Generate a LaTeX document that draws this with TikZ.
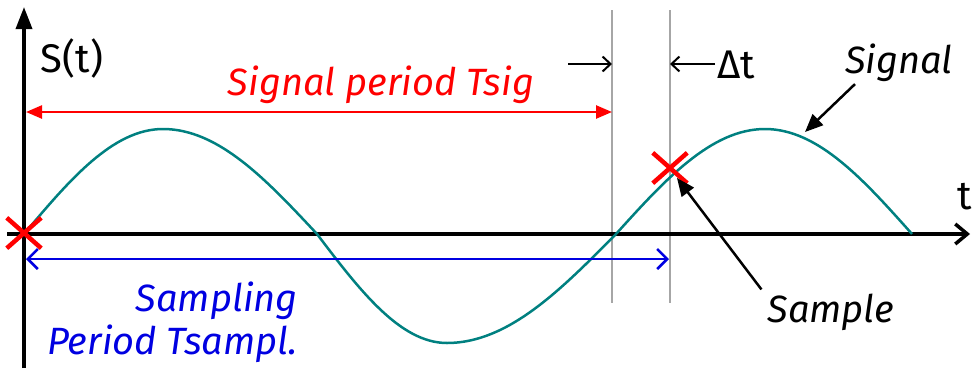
\documentclass[tikz,border=0pt]{standalone}
\usepackage{fontspec}
\setmainfont{Fira Sans}
\usetikzlibrary{arrows.meta,positioning,shapes.misc}
\definecolor{sigteal}{RGB}{0,128,128}
\definecolor{tsigred}{RGB}{255,0,0}
\definecolor{tsamblue}{RGB}{0,0,225}
\tikzset{
  axisline/.style={line width=3.5pt, black},
  periodarrow/.style={line width=2.5pt, draw=#1},
  guide/.style={line width=1.2pt, gray!70},
  samplemark/.style={cross out, draw=tsigred, line width=4.5pt,
                     minimum width=30pt, minimum height=26pt, inner sep=0pt},
  lbl/.style={font=\fontsize{38}{43}\selectfont\itshape, inner sep=0pt},
  ulbl/.style={font=\fontsize{40}{43}\selectfont, inner sep=0pt},
  pointer/.style={-{Triangle[length=18pt,width=15pt]}, line width=2.5pt},
}

\begin{document}
\begin{tikzpicture}[x=1pt,y=-1pt]
  \useasboundingbox (0,0) rectangle (980,368);
  % guides at end of signal period and at the sample
  \coordinate (g1top) at (612,10);  \coordinate (g1bot) at (612,303);
  \coordinate (g2top) at (670,10);  \coordinate (g2bot) at (670,303);
  \draw[guide] (g1top) -- (g1bot);
  \draw[guide] (g2top) -- (g2bot);
  % axes
  \coordinate (ybot) at (24,368);  \coordinate (ytop) at (24,7);
  \coordinate (xleft) at (7,234);  \coordinate (xright) at (970,234);
  \draw[axisline, -{Triangle[length=22pt,width=16pt]}] (ybot) -- (ytop);
  \draw[axisline, -{Straight Barb[length=12pt,width=20pt]}] (xleft) -- (xright);
  % signal
  \draw[line width=2.5pt, sigteal] (24,234) sin (163,129) cos (317,234) sin (447,343)
    cos (616,234) sin (765,129) cos (912,234);
  % samples
  \node[samplemark] (s0) at (24,233) {};
  \node[samplemark] (s1) at (670,168) {};
  % periods
  \coordinate (tsigl) at (26,112);  \coordinate (tsigr) at (612,112);
  \draw[periodarrow=tsigred, fill=tsigred,
        {Triangle[length=16pt,width=13pt]}-{Triangle[length=16pt,width=13pt]}] (tsigl) -- (tsigr);
  \coordinate (tsaml) at (26,259);  \coordinate (tsamr) at (669,259);
  \draw[periodarrow=tsamblue, {Straight Barb[length=10pt,width=20pt]}-{Straight Barb[length=10pt,width=20pt]}] (tsaml) -- (tsamr);
  % delta t
  \coordinate (dl) at (568,64);  \coordinate (dr) at (715,64);
  \draw[line width=2pt, -{Straight Barb[length=8pt,width=15pt]}] (dl) -- (g1top |- dl);
  \draw[line width=2pt, -{Straight Barb[length=8pt,width=15pt]}] (dr) -- (g2top |- dr);
  % labels
  \node[ulbl] (st) at (72,58) {S(t)};
  \node[lbl, text=tsigred] (tsig) at (381,85) {Signal period Tsig};
  \node[ulbl, anchor=west] (dt) at (717,65) {Δt};
  \node[ulbl] (tl) at (965,197) {t};
  \node[lbl] (sig) at (899,63) {Signal};
  \node[lbl] (samp) at (831,312) {Sample};
  \node[lbl, text=tsamblue, align=right, anchor=east] (tsam) at (298,322) {Sampling\\Period Tsampl.};
  % pointers
  \coordinate (sigtip) at (805,132);  \coordinate (samptip) at (677,178);
  \draw[pointer] (sig.south west) ++(10,2) -- (sigtip);
  \draw[pointer] (samp.north west) ++(-6,-4) -- (samptip);
\end{tikzpicture}
\end{document}
